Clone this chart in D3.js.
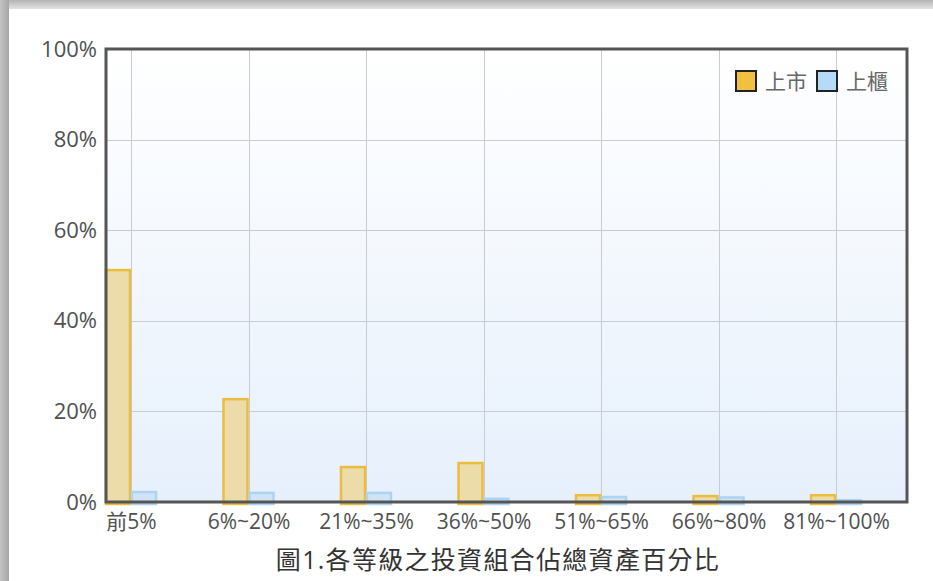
<!DOCTYPE html>
<html>
<head>
<meta charset="utf-8">
<script src="https://cdn.jsdelivr.net/npm/d3@7"></script>
<style>
  html, body { margin: 0; padding: 0; background: #fff; }
  svg { display: block; }
  text { font-family: "Open Sans", "Noto Sans CJK TC", sans-serif; }
</style>
</head>
<body>
<div id="chart"></div>
<script>
// data
var categories = ["前5%", "6%~20%", "21%~35%", "36%~50%", "51%~65%", "66%~80%", "81%~100%"]
var listed = [51.2, 22.7, 7.7, 8.6, 1.5, 1.3, 1.5]   // 上市
var otc = [2.2, 2.0, 2.0, 0.7, 1.1, 1.0, 0.4]         // 上櫃
var yTicks = [0, 20, 40, 60, 80, 100]
var seriesNames = ["上市", "上櫃"]
var title = "圖1.各等級之投資組合佔總資產百分比"

var width = 933, height = 581
var margin = {top: 49, right: 26, bottom: 79, left: 106}
var w = width - margin.left - margin.right
var h = height - margin.top - margin.bottom

var svg = d3.select("#chart").append("svg")
    .attr("width", width)
    .attr("height", height)

var defs = svg.append("defs")
var sh = defs.append("linearGradient").attr("id", "shadowTop").attr("x1", 0).attr("y1", 0).attr("x2", 0).attr("y2", 1)
sh.append("stop").attr("offset", "0%").attr("stop-color", "#b4b4b4")
sh.append("stop").attr("offset", "100%").attr("stop-color", "#e2e2e2")
var shl = defs.append("linearGradient").attr("id", "shadowLeft").attr("x1", 0).attr("y1", 0).attr("x2", 1).attr("y2", 0)
shl.append("stop").attr("offset", "0%").attr("stop-color", "#c4c4c4")
shl.append("stop").attr("offset", "100%").attr("stop-color", "#a6a6a6")
var bg = defs.append("linearGradient").attr("id", "plotBg").attr("x1", 0).attr("y1", 0).attr("x2", 0).attr("y2", 1)
bg.append("stop").attr("offset", "0%").attr("stop-color", "#ffffff")
bg.append("stop").attr("offset", "100%").attr("stop-color", "#e6f0fc")

// the frame shadow round the picture
svg.append("rect").attr("x", 0).attr("y", 0).attr("width", width).attr("height", 9).attr("fill", "url(#shadowTop)")
svg.append("rect").attr("x", 0).attr("y", 0).attr("width", 9).attr("height", height).attr("fill", "url(#shadowLeft)")

var g = svg.append("g")
    .attr("transform", "translate(" + margin.left + "," + margin.top + ")")

var y = d3.scaleLinear().domain([0, 100]).range([h, 0])
var x = d3.scalePoint().domain(categories).range([25, 730])
var barW = 24

g.append("rect")
    .attr("width", w).attr("height", h)
    .attr("fill", "url(#plotBg)")

// grid
g.append("g").selectAll("line.h")
    .data(yTicks.slice(1, -1))
    .enter().append("line")
    .attr("x1", 0).attr("x2", w)
    .attr("y1", function(d) { return Math.round(y(d)) + 0.5 })
    .attr("y2", function(d) { return Math.round(y(d)) + 0.5 })
    .attr("stroke", "#c9cbd3").attr("stroke-width", 1)

g.append("g").selectAll("line.v")
    .data(categories)
    .enter().append("line")
    .attr("x1", function(d) { return Math.round(x(d)) + 0.5 })
    .attr("x2", function(d) { return Math.round(x(d)) + 0.5 })
    .attr("y1", 0).attr("y2", h)
    .attr("stroke", "#c9cbd3").attr("stroke-width", 1)

// bars
var series = [
    {name: seriesNames[0], values: listed, fill: "#ecdcaa", stroke: "#ebbd3e", off: -barW - 1},
    {name: seriesNames[1], values: otc, fill: "#d0e4f6", stroke: "#acd3f1", off: 1}
]
series.forEach(function(s) {
    g.append("g").selectAll("rect")
        .data(s.values)
        .enter().append("rect")
        .attr("x", function(d, i) { return x(categories[i]) + s.off })
        .attr("y", function(d) { return y(d) })
        .attr("width", barW)
        .attr("height", function(d) { return h - y(d) + 2 })
        .attr("fill", s.fill)
        .attr("stroke", s.stroke)
        .attr("stroke-width", 2.5)
})

// plot border
g.append("rect")
    .attr("width", w).attr("height", h)
    .attr("fill", "none")
    .attr("stroke", "#555")
    .attr("stroke-width", 3)

// axes labels
var yAxis = d3.axisLeft(y).tickValues(yTicks).tickSize(0).tickPadding(9)
    .tickFormat(function(d) { return d + "%" })
var ya = g.append("g").call(yAxis)
ya.select(".domain").remove()
ya.attr("font-size", null)
ya.selectAll("text").attr("font-size", 22).attr("fill", "#505050")
    .attr("font-family", "\"Open Sans\", sans-serif")

var xAxis = d3.axisBottom(x).tickSize(0).tickPadding(12)
var xa = g.append("g").attr("transform", "translate(0," + h + ")").call(xAxis)
xa.select(".domain").remove()
xa.attr("font-size", null)
xa.selectAll("text").attr("font-size", 21).attr("fill", "#505050")
    .attr("font-family", "\"Open Sans\", \"Noto Sans CJK TC\", sans-serif")

// legend
var leg = g.append("g").attr("transform", "translate(" + (w - 171) + ",22)")
var lx = 0
series.forEach(function(s, i) {
    leg.append("rect")
        .attr("x", lx).attr("y", 0)
        .attr("width", 20).attr("height", 20)
        .attr("fill", i == 0 ? "#f0c040" : "#b4dcf8")
        .attr("stroke", "#222").attr("stroke-width", 2)
    leg.append("text")
        .attr("x", lx + 29).attr("y", 18)
        .attr("font-size", 21).attr("fill", "#666")
        .attr("font-family", "\"Noto Sans CJK TC\", sans-serif")
        .text(s.name)
    lx += 81
})

// title
svg.append("text")
    .attr("x", 498).attr("y", 569)
    .attr("text-anchor", "middle")
    .attr("font-size", 25)
    .attr("letter-spacing", 1.3)
    .attr("fill", "#333")
    .attr("font-family", "\"Open Sans\", \"Noto Sans CJK TC\", sans-serif")
    .text(title)
</script>
</body>
</html>
